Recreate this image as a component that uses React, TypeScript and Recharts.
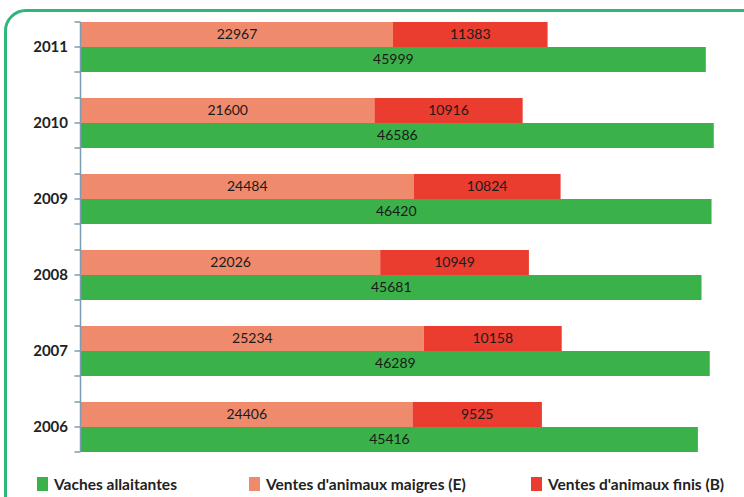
import { Bar, BarChart, LabelList, Legend, XAxis, YAxis } from "recharts";

const years = ["2011", "2010", "2009", "2008", "2007", "2006"];
const maigres = [22967, 21600, 24484, 22026, 25234, 24406];
const finis = [11383, 10916, 10824, 10949, 10158, 9525];
const vaches = [45999, 46586, 46420, 45681, 46289, 45416];

const SERIES = [
  { key: "maigres", name: "Ventes d'animaux maigres (E)", color: "#f08a6c" },
  { key: "finis", name: "Ventes d'animaux finis (B)", color: "#ea3d2f" },
  { key: "vaches", name: "Vaches allaitantes", color: "#3bb14a" },
];

// legend order and horizontal placement, as in the original layout
const LEGEND_ORDER = ["vaches", "maigres", "finis"];
const LEGEND_X = [37, 249, 531];

const FONT = "Lato, 'Open Sans', sans-serif";

const data = years.map((year, i) => ({
  year,
  maigres: maigres[i],
  finis: finis[i],
  vaches: vaches[i],
}));

function YearTick(props: any) {
  const { x, y, payload, index, visibleTicksCount } = props;
  const last = (visibleTicksCount ?? years.length) - 1;
  const top = index === 0 ? y - 25 : y - 38;
  const bottom = index === last ? y + 25 : y + 38;
  const ax = x - 0.5;
  return (
    <g>
      <line x1={ax} x2={ax} y1={top} y2={bottom} stroke="#7d9bb2" strokeWidth={1.5} />
      {[-25, 0, 25].map((d) => (
        <line key={d} x1={ax - 6} x2={ax} y1={y + d} y2={y + d} stroke="#7d9bb2" strokeWidth={1.5} />
      ))}
      <text
        x={x - 13}
        y={y}
        dy="0.36em"
        textAnchor="end"
        fontFamily={FONT}
        fontWeight={700}
        fontSize={15}
        fill="#222"
      >
        {payload.value}
      </text>
    </g>
  );
}

function LegendRow() {
  return (
    <div style={{ position: "relative", width: 744, height: 24 }}>
      {LEGEND_ORDER.map((k, i) => {
        const s = SERIES.find((e) => e.key === k)!;
        return (
          <div
            key={k}
            style={{
              position: "absolute",
              left: LEGEND_X[i],
              top: 0,
              display: "flex",
              alignItems: "center",
              whiteSpace: "nowrap",
            }}
          >
            <span style={{ width: 11, height: 14, background: s.color, display: "inline-block" }} />
            <span
              style={{
                marginLeft: 6,
                fontFamily: FONT,
                fontSize: 15.5,
                fontWeight: 700,
                color: "#222",
              }}
            >
              {s.name}
            </span>
          </div>
        );
      })}
    </div>
  );
}

export default function App() {
  return (
    <div
      style={{
        position: "fixed",
        left: 0,
        top: 0,
        width: 744,
        height: 497,
        overflow: "hidden",
        background: "#fff",
      }}
    >
      <div
        style={{
          position: "absolute",
          left: 4,
          top: 9,
          width: 800,
          height: 560,
          border: "3px solid #2fb77a",
          borderRadius: 22,
          boxSizing: "border-box",
        }}
      />
      <div style={{ position: "absolute", left: 0, top: 0 }}>
        <BarChart
          width={744}
          height={497}
          data={data}
          layout="vertical"
          margin={{ top: 9, right: 11, bottom: 8, left: 0 }}
          barCategoryGap={13}
          barGap={0}
        >
          <XAxis type="number" domain={[0, 48000]} hide />
          <YAxis
            type="category"
            dataKey="year"
            width={81}
            axisLine={false}
            tickLine={false}
            tickSize={0}
            tickMargin={0}
            tick={<YearTick />}
            interval={0}
          />
          {SERIES.map((s) => (
            <Bar
              key={s.key}
              dataKey={s.key}
              name={s.name}
              fill={s.color}
              stackId={s.key === "vaches" ? undefined : "ventes"}
              isAnimationActive={false}
            >
              <LabelList
                dataKey={s.key}
                position="center"
                fill="#1a1a1a"
                fontFamily={FONT}
                fontSize={14}
              />
            </Bar>
          ))}
          <Legend
            verticalAlign="bottom"
            wrapperStyle={{ left: 0, top: 475, width: 744 }}
            content={() => <LegendRow />}
          />
        </BarChart>
      </div>
    </div>
  );
}
